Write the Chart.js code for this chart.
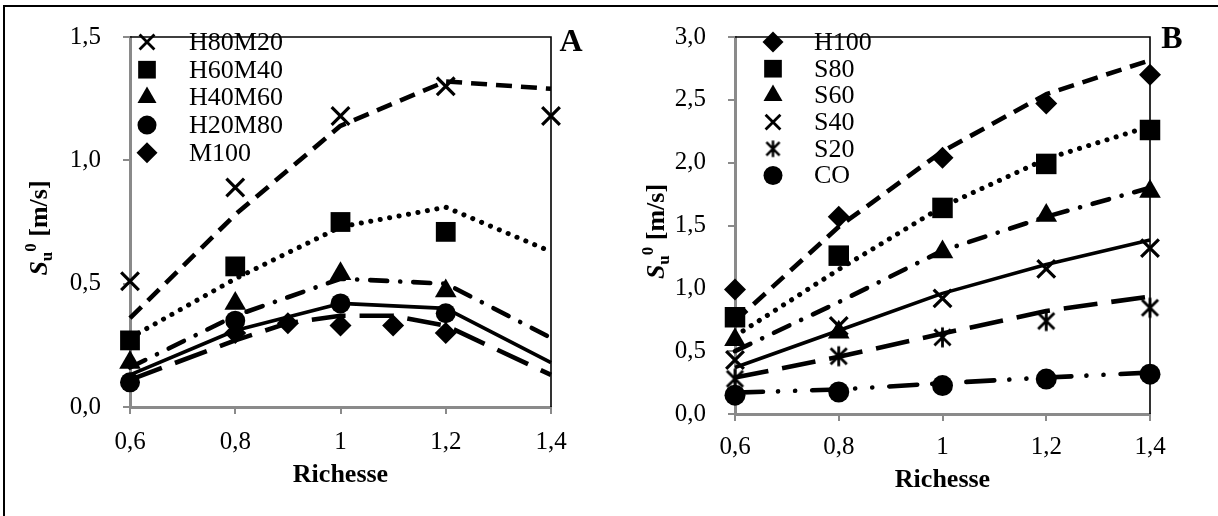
<!DOCTYPE html>
<html>
<head>
<meta charset="utf-8">
<script src="https://cdn.jsdelivr.net/npm/chart.js@4/dist/chart.umd.min.js"></script>
<style>
  body { margin: 0; background: #fff; }
  #wrap { position: relative; width: 1218px; height: 516px; overflow: hidden; background: #fff; }
  #frame { position: absolute; left: 3px; top: 5px; width: 1230px; height: 530px;
           border-top: 2.5px solid #000; border-left: 2.5px solid #000; }
  canvas { position: absolute; top: 0; }
</style>
</head>
<body>
<div id="wrap">
  <div id="frame"></div>
  <canvas id="chartA" width="600" height="516" style="left:0"></canvas>
  <canvas id="chartB" width="618" height="516" style="left:600px"></canvas>
</div>
<script>
// richesse values (x)
const richesse = [0.6, 0.8, 1.0, 1.2, 1.4];
const richesseExpA = [0.6, 0.8, 1.0, 1.2];
const richesseM100 = [0.8, 0.9, 1.0, 1.1, 1.2];
const richesseM100Fit = [0.6, 0.8, 0.9, 1.0, 1.1, 1.2, 1.4];

const xTickLabels = ['0,6', '0,8', '1', '1,2', '1,4'];
const yTickLabelsA = ['0,0', '0,5', '1,0', '1,5'];
const yTickLabelsB = ['0,0', '0,5', '1,0', '1,5', '2,0', '2,5', '3,0'];

// panel A : measured points
const h80m20 = [0.51, 0.89, 1.18, 1.30, 1.18];
const h60m40 = [0.27, 0.57, 0.75, 0.71];
const h40m60 = [0.18, 0.42, 0.54, 0.47];
const h20m80 = [0.10, 0.35, 0.42, 0.38];
const m100 = [0.30, 0.34, 0.33, 0.33, 0.30];
// panel A : computed curves
const h80m20Fit = [0.36, 0.78, 1.14, 1.32, 1.29];
const h60m40Fit = [0.28, 0.52, 0.73, 0.81, 0.63];
const h40m60Fit = [0.16, 0.37, 0.52, 0.50, 0.28];
const h20m80Fit = [0.13, 0.31, 0.42, 0.40, 0.18];
const m100Fit = [0.11, 0.27, 0.34, 0.37, 0.37, 0.33, 0.13];

// panel B : measured points
const h100 = [0.99, 1.57, 2.04, 2.47, 2.70];
const s80 = [0.77, 1.26, 1.64, 1.99, 2.26];
const s60 = [0.59, 0.65, 1.29, 1.58, 1.77];
const s40 = [0.43, 0.70, 0.92, 1.155, 1.32];
const s20 = [0.28, 0.46, 0.61, 0.74, 0.845];
const co = [0.15, 0.175, 0.226, 0.278, 0.317];
// panel B : computed curves
const h100Fit = [0.74, 1.49, 2.09, 2.545, 2.815];
const s80Fit = [0.62, 1.15, 1.65, 2.03, 2.29];
const s60Fit = [0.50, 0.89, 1.30, 1.57, 1.80];
const s40Fit = [0.37, 0.665, 0.96, 1.19, 1.385];
const s20Fit = [0.29, 0.455, 0.64, 0.82, 0.935];
const coFit = [0.17, 0.195, 0.245, 0.29, 0.33];

const SERIF = '"Liberation Serif", "Times New Roman", serif';
const AXIS_GREY = '#8a8a8a';

// Excel style asterisk (x with a vertical bar)
function makeStar(size, lw) {
    const c = document.createElement('canvas');
    c.width = size; c.height = size;
    const g = c.getContext('2d');
    const h = size / 2, r = size / 2 - lw / 2 - 1;
    g.strokeStyle = '#000';
    g.lineWidth = lw;
    g.beginPath();
    g.moveTo(h - r * 0.8, h - r * 0.8); g.lineTo(h + r * 0.8, h + r * 0.8);
    g.moveTo(h + r * 0.8, h - r * 0.8); g.lineTo(h - r * 0.8, h + r * 0.8);
    g.moveTo(h, h - r); g.lineTo(h, h + r);
    g.stroke();
    return c;
}
const starPlot = makeStar(25, 2.8);
const starLegend = makeStar(21, 2.5);

function pts(xs, ys) {
    return xs.map((x, i) => ({ x: x, y: ys[i] }));
}

function markers(label, xs, ys, style, radius, legendRadius) {
    const line = style === 'crossRot';
    return {
        label: label,
        data: pts(xs, ys),
        showLine: false,
        clip: false,
        pointStyle: style === 'star' ? starPlot : style,
        legendStyle: style === 'star' ? starLegend : style,
        legendRadius: legendRadius,
        pointRadius: radius,
        pointBackgroundColor: '#000',
        pointBorderColor: '#000',
        pointBorderWidth: line ? 3.2 : 0,
        isMarker: true
    };
}

function fitLine(xs, ys, dash, width, cap) {
    return {
        data: pts(xs, ys),
        showLine: true,
        clip: false,
        pointRadius: 0,
        borderColor: '#000',
        borderWidth: width,
        borderDash: dash,
        borderCapStyle: cap,
        borderJoinStyle: 'round',
        tension: 0
    };
}

// plot border, legend, axis titles and panel letter
const panelDecor = {
    id: 'panelDecor',
    beforeDatasetsDraw(chart, args, opts) {
        const a = chart.chartArea, ctx = chart.ctx;
        ctx.save();
        ctx.strokeStyle = '#000';
        ctx.lineWidth = 1.6;
        ctx.beginPath();
        ctx.moveTo(a.left, a.top);
        ctx.lineTo(a.right, a.top);
        ctx.lineTo(a.right, a.bottom);
        ctx.stroke();
        ctx.restore();
    },
    afterDraw(chart, args, opts) {
        const a = chart.chartArea, ctx = chart.ctx;
        ctx.save();
        ctx.fillStyle = '#000';
        ctx.strokeStyle = '#000';

        // legend
        let row = 0;
        chart.data.datasets.forEach(ds => {
            if (!ds.isMarker) return;
            const y = opts.legendY + row * opts.legendDy;
            const bw = ds.legendStyle === 'crossRot' ? 2.8 : 0;
            ctx.lineWidth = bw;
            Chart.helpers.drawPoint(ctx, {
                pointStyle: ds.legendStyle,
                radius: ds.legendRadius,
                rotation: 0,
                borderWidth: bw
            }, opts.legendMarkerX, y);
            ctx.font = '26px ' + SERIF;
            ctx.textAlign = 'left';
            ctx.textBaseline = 'middle';
            ctx.fillText(ds.label, opts.legendTextX, y + 1);
            row++;
        });

        // x title
        ctx.font = 'bold 26px ' + SERIF;
        ctx.textAlign = 'center';
        ctx.textBaseline = 'middle';
        ctx.fillText('Richesse', (a.left + a.right) / 2, opts.xTitleY);

        // y title  S_u^0 [m/s]
        const parts = [
            { t: 'S', f: 'italic bold 26px ' + SERIF, dy: 0 },
            { t: 'u', f: 'bold 17px ' + SERIF, dy: 5 },
            { t: '0', f: 'bold 17px ' + SERIF, dy: -11 },
            { t: ' [m/s]', f: 'bold 26px ' + SERIF, dy: 0 }
        ];
        let total = 0;
        parts.forEach(p => { ctx.font = p.f; p.w = ctx.measureText(p.t).width; total += p.w; });
        ctx.translate(opts.yTitleX, (a.top + a.bottom) / 2 + opts.yTitleShift);
        ctx.rotate(-Math.PI / 2);
        ctx.textAlign = 'left';
        ctx.textBaseline = 'alphabetic';
        let x = -total / 2;
        parts.forEach(p => { ctx.font = p.f; ctx.fillText(p.t, x, 9 + p.dy); x += p.w; });
        ctx.setTransform(1, 0, 0, 1, 0, 0);

        // panel letter
        ctx.font = 'bold 32px ' + SERIF;
        ctx.textAlign = 'center';
        ctx.textBaseline = 'middle';
        ctx.fillText(opts.letter, opts.letterX, opts.letterY);
        ctx.restore();
    }
};

function scales(yMax, yLabels, yWidth, xHeight, xPad) {
    return {
        x: {
            type: 'linear', min: 0.6, max: 1.4,
            ticks: {
                stepSize: 0.2, autoSkip: false, maxRotation: 0, padding: xPad,
                color: '#000', font: { family: SERIF, size: 25 },
                callback: v => xTickLabels[Math.round((v - 0.6) / 0.2)]
            },
            grid: { drawOnChartArea: false, drawTicks: true, tickLength: 7, color: AXIS_GREY, lineWidth: 2 },
            border: { display: true, color: AXIS_GREY, width: 3 },
            afterFit: s => { s.height = xHeight; }
        },
        y: {
            type: 'linear', min: 0, max: yMax,
            ticks: {
                stepSize: 0.5, padding: 22, color: '#000', font: { family: SERIF, size: 25 },
                callback: v => yLabels[Math.round(v / 0.5)]
            },
            grid: { drawOnChartArea: false, drawTicks: true, tickLength: 7, color: AXIS_GREY, lineWidth: 2 },
            border: { display: true, color: AXIS_GREY, width: 3 },
            afterFit: s => { s.width = yWidth; }
        }
    };
}

const dashed = [16, 9];
const dotted = [0.1, 9.5];
const dashDot = [17, 13, 0.1, 13];
const longDash = [34, 14];
const dashDotDot = [28, 15, 0.1, 17, 0.1, 17];

new Chart(document.getElementById('chartA'), {
    type: 'scatter',
    data: {
        datasets: [
            fitLine(richesse, h80m20Fit, dashed, 4.6, 'butt'),
            fitLine(richesse, h60m40Fit, dotted, 5, 'round'),
            fitLine(richesse, h40m60Fit, dashDot, 4.6, 'round'),
            fitLine(richesse, h20m80Fit, [], 3.6, 'butt'),
            fitLine(richesseM100Fit, m100Fit, longDash, 4.6, 'butt'),
            markers('H80M20', richesse, h80m20, 'crossRot', 12.5, 10.5),
            markers('H60M40', richesseExpA, h60m40, 'rect', 14, 12.5),
            markers('H40M60', richesseExpA, h40m60, 'triangle', 12.5, 11),
            markers('H20M80', richesseExpA, h20m80, 'circle', 10, 9.5),
            markers('M100', richesseM100, m100, 'rectRot', 11, 10.5)
        ]
    },
    options: {
        responsive: false,
        animation: false,
        devicePixelRatio: 1,
        layout: { padding: { left: 0, right: 49, top: 23, bottom: 0 } },
        scales: scales(1.5, yTickLabelsA, 130, 109, 13),
        plugins: {
            legend: { display: false },
            tooltip: { enabled: false },
            panelDecor: {
                legendY: 42, legendDy: 27.7, legendMarkerX: 147, legendTextX: 189,
                xTitleY: 475, yTitleX: 38, yTitleShift: 6,
                letter: 'A', letterX: 571, letterY: 43
            }
        }
    },
    plugins: [panelDecor]
});

new Chart(document.getElementById('chartB'), {
    type: 'scatter',
    data: {
        datasets: [
            fitLine(richesse, h100Fit, dashed, 4.6, 'butt'),
            fitLine(richesse, s80Fit, dotted, 5, 'round'),
            fitLine(richesse, s60Fit, dashDot, 4.6, 'round'),
            fitLine(richesse, s40Fit, [], 3.6, 'butt'),
            fitLine(richesse, s20Fit, longDash, 4.6, 'butt'),
            fitLine(richesse, coFit, dashDotDot, 4.6, 'round'),
            markers('H100', richesse, h100, 'rectRot', 11, 10.5),
            markers('S80', richesse, s80, 'rect', 14.5, 12.5),
            markers('S60', richesse, s60, 'triangle', 12.5, 11),
            markers('S40', richesse, s40, 'crossRot', 12.5, 10.5),
            markers('S20', richesse, s20, 'star', 12, 10),
            markers('CO', richesse, co, 'circle', 10.5, 9.5)
        ]
    },
    options: {
        responsive: false,
        animation: false,
        devicePixelRatio: 1,
        layout: { padding: { left: 0, right: 68, top: 26, bottom: 0 } },
        scales: scales(3.0, yTickLabelsB, 135, 102, 11),
        plugins: {
            legend: { display: false },
            tooltip: { enabled: false },
            panelDecor: {
                legendY: 42, legendDy: 26.7, legendMarkerX: 173, legendTextX: 214,
                xTitleY: 480, yTitleX: 55, yTitleShift: 6,
                letter: 'B', letterX: 572, letterY: 40
            }
        }
    },
    plugins: [panelDecor]
});
</script>
</body>
</html>
